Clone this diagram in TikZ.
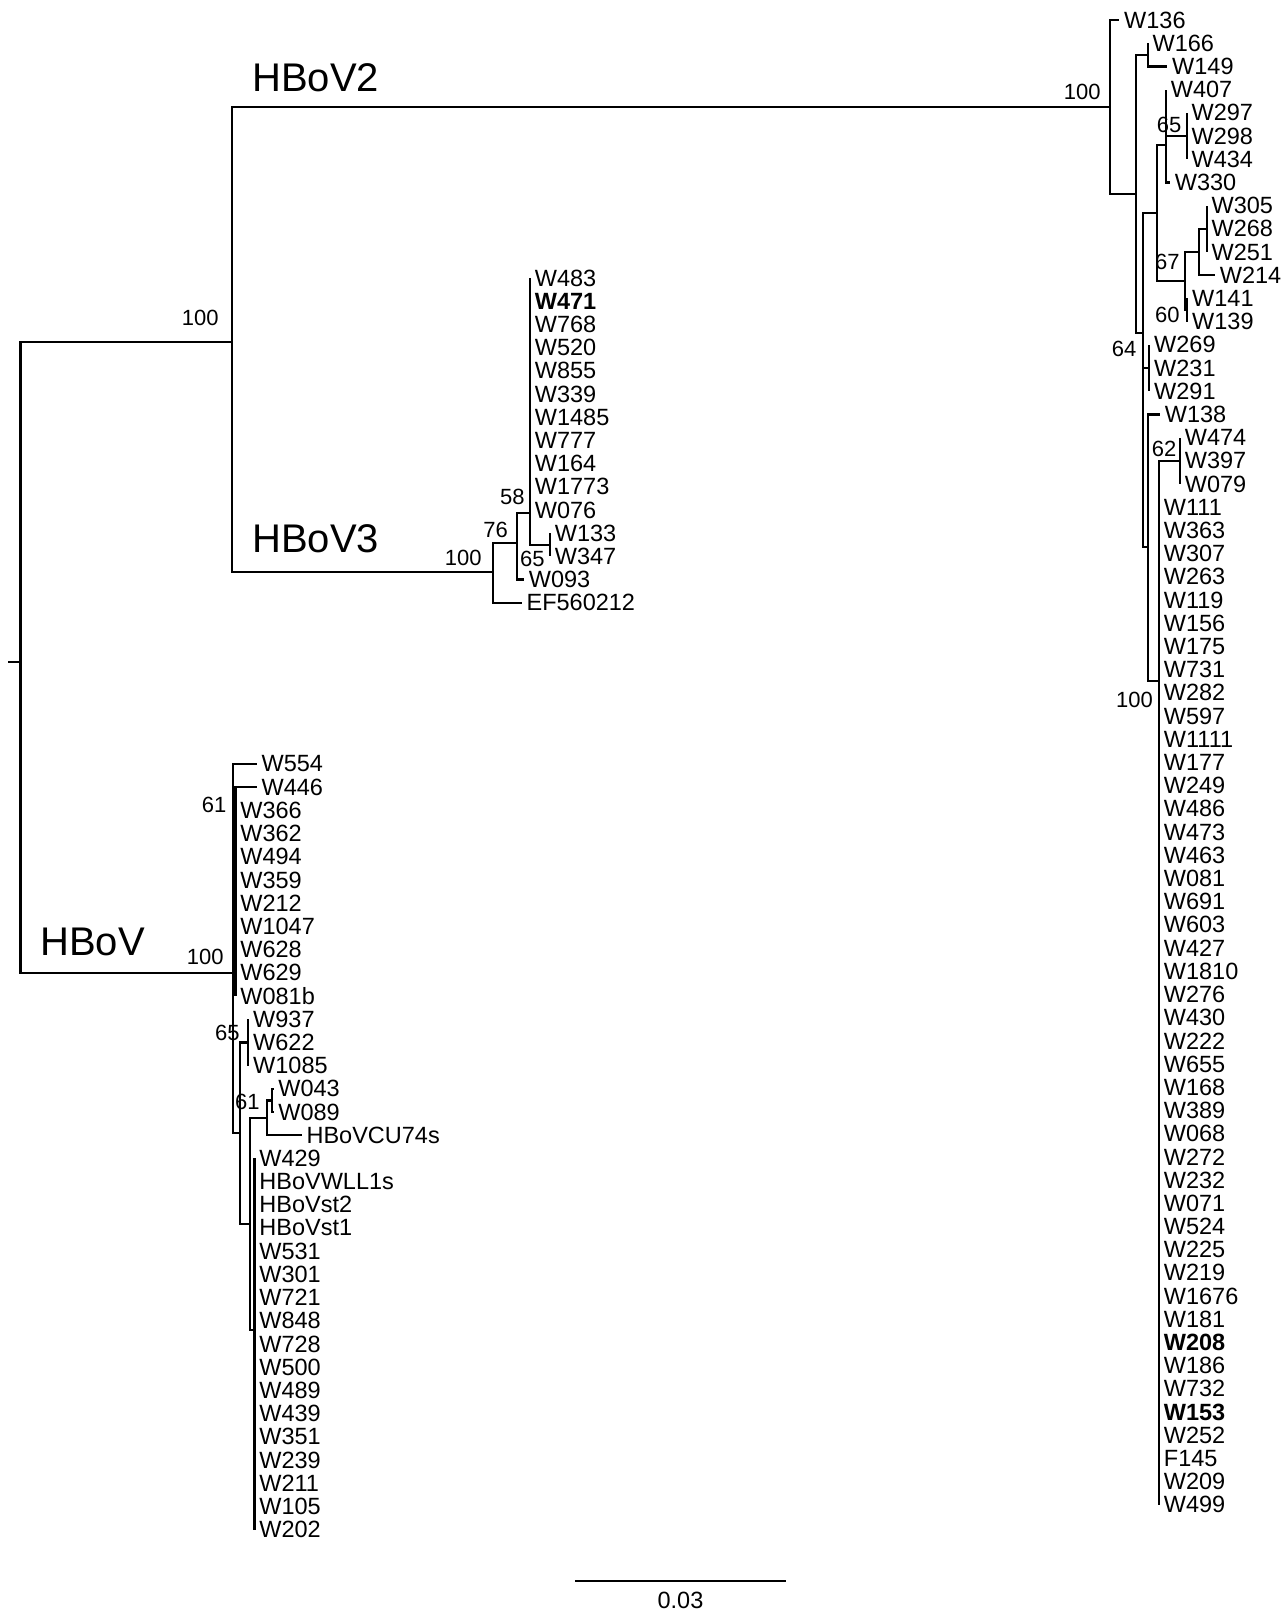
\documentclass[tikz,border=0pt]{standalone}
\usepackage{fontspec}
\setmainfont{Liberation Sans}
\usepackage{tikz}
\usetikzlibrary{calc,positioning}

\newcommand{\tiprow}{23.2}
\newcommand{\ytwo}{20}
\newcommand{\ythree}{278}
\newcommand{\yone}{764}

\begin{document}
\begin{tikzpicture}[
  x=0.5pt, y=-0.5pt,
  branch/.style={
    line width=1.15pt,
    draw=black,
  },
  tip/.style={
    anchor=west,
    inner sep=0pt,
    xshift=2.25pt,
    font=\fontsize{11.75}{12}\selectfont,
  },
  boot/.style={
    anchor=east,
    inner sep=0pt,
    font=\fontsize{11}{12}\selectfont,
  },
  clade/.style={
    anchor=west,
    inner sep=0pt,
    font=\fontsize{20}{22}\selectfont,
  },
]
\useasboundingbox (0,0) rectangle (1288,1610);

% =============================================================================
% Root and the three main lineages
% =============================================================================
\coordinate (root) at (20.5,662);
\coordinate (stub) at (8,662);
\coordinate (c23) at (232,342);
\coordinate (h0) at (233,973.3);
\coordinate (a2) at (1110,107);
\coordinate (c1) at (493.3,571.7);

\draw[branch] (stub) -- (root);
\draw[branch] (root) |- (c23);
\draw[branch] (root) |- (h0);
\draw[branch] (c23) |- (a2);
\draw[branch] (c23) |- (c1);

\node[clade] (lhbov2) at (252,78) {HBoV2};
\node[clade] (lhbov3) at (252,539) {HBoV3};
\node[clade] (lhbov) at (40,942) {HBoV};

\node[boot] (bs23) at (219,318) {100};
\node[boot] (bsa2) at (1101,92) {100};
\node[boot] (bsc1) at (482,558) {100};
\node[boot] (bsh0) at (224,957) {100};

% =============================================================================
% HBoV2 clade
% =============================================================================
\coordinate (t2) at (1136,193.9);
\coordinate (n166) at (1147.7,54.8);
\coordinate (r64) at (1143,333);
\coordinate (s2) at (1157.3,212.7);
\coordinate (v2) at (1166,145);
\coordinate (v297) at (1186.7,136);
\coordinate (x67) at (1185,281);
\coordinate (y2) at (1199.3,252);
\coordinate (n305) at (1206.7,228.8);
\coordinate (n141) at (1187.3,310);
\coordinate (g269) at (1149.3,368);
\coordinate (p2) at (1148.3,547);
\coordinate (q100) at (1159,680.7);
\coordinate (n474) at (1180,460.8);

\draw[branch] (a2) |- (t2);
\draw[branch] (t2) |- (n166);
\draw[branch] (t2) |- (r64);
\draw[branch] (r64) |- (s2);
\draw[branch] (r64) |- (g269);
\draw[branch] (r64) |- (p2);
\draw[branch] (s2) |- (v2);
\draw[branch] (s2) |- (x67);
\draw[branch] (v2) |- (v297);
\draw[branch] (x67) |- (y2);
\draw[branch] (x67) |- (n141);
\draw[branch] (y2) |- (n305);
\draw[branch] (p2) |- (q100);
\draw[branch] (q100) |- (n474);

\foreach \up/\tx/\k/\lab in {
  a2/1119.3/0/W136, n166/1147.7/1/W166, n166/1167.3/2/W149,
  v2/1166/3/W407, v297/1186.7/4/W297, v297/1186.7/5/W298,
  v297/1186.7/6/W434, v2/1170/7/W330,
  n305/1206.7/8/W305, n305/1206.7/9/W268, n305/1206.7/10/W251,
  y2/1215/11/W214, n141/1187.3/12/W141, n141/1187.3/13/W139,
  g269/1149.3/14/W269, g269/1149.3/15/W231, g269/1149.3/16/W291,
  p2/1160/17/W138, n474/1180/18/W474, n474/1180/19/W397,
  n474/1180/20/W079}
{
  \coordinate (b\k) at (\tx,{\ytwo+\k*\tiprow});
  \draw[branch] (\up) |- (b\k);
  \node[tip] (lb\k) at (b\k) {\lab};
}

\foreach \lab [count=\k from 21] in {
  W111, W363, W307, W263, W119, W156, W175, W731, W282, W597, W1111,
  W177, W249, W486, W473, W463, W081, W691, W603, W427, W1810, W276,
  W430, W222, W655, W168, W389, W068, W272, W232, W071, W524, W225,
  W219, W1676, W181, \textbf{W208}, W186, W732, \textbf{W153}, W252,
  F145, W209, W499}
{
  \coordinate (b\k) at (1159,{\ytwo+\k*\tiprow});
  \draw[branch] (q100) |- (b\k);
  \node[tip] (lb\k) at (b\k) {\lab};
}

\node[boot] (bs65a) at (1181.7,125) {65};
\node[boot] (bs67) at (1180,261.7) {67};
\node[boot] (bs60) at (1180,315) {60};
\node[boot] (bs64) at (1136.7,349.3) {64};
\node[boot] (bs62) at (1176.7,449.3) {62};
\node[boot] (bs100q) at (1153.3,700) {100};

% =============================================================================
% HBoV3 clade
% =============================================================================
\coordinate (c2) at (517.3,543.3);
\coordinate (c3) at (530,513.3);
\coordinate (n133) at (550,544.8);

\draw[branch] (c1) |- (c2);
\draw[branch] (c2) |- (c3);
\draw[branch] (c3) |- (n133);

\foreach \lab [count=\k from 0] in {
  W483, \textbf{W471}, W768, W520, W855, W339, W1485, W777, W164,
  W1773, W076}
{
  \coordinate (e\k) at (530,{\ythree+\k*\tiprow});
  \draw[branch] (c3) |- (e\k);
  \node[tip] (le\k) at (e\k) {\lab};
}

\foreach \up/\tx/\k/\lab in {
  n133/550/11/W133, n133/550/12/W347, c2/524/13/W093,
  c1/521.7/14/EF560212}
{
  \coordinate (e\k) at (\tx,{\ythree+\k*\tiprow});
  \draw[branch] (\up) |- (e\k);
  \node[tip] (le\k) at (e\k) {\lab};
}

\node[boot] (bs76) at (508.3,530) {76};
\node[boot] (bs58) at (525,497.3) {58};
\node[boot] (bs65b) at (545,558.5) {65};

% =============================================================================
% HBoV clade
% =============================================================================
\coordinate (h1) at (235.5,891);
\coordinate (h2) at (240,1133.3);
\coordinate (n937) at (248.3,1042.4);
\coordinate (h3) at (250,1224);
\coordinate (h4) at (266.7,1117.8);
\coordinate (n043) at (271.7,1100.4);
\coordinate (h5) at (254.5,1330);

\draw[branch] (h0) |- (h1);
\draw[branch] (h0) |- (h2);
\draw[branch] (h2) |- (n937);
\draw[branch] (h2) |- (h3);
\draw[branch] (h3) |- (h4);
\draw[branch] (h3) |- (h5);
\draw[branch] (h4) |- (n043);

\foreach \up/\tx/\k/\lab in {
  h0/256.7/0/W554, h1/256.7/1/W446,
  h1/235.5/2/W366, h1/235.5/3/W362, h1/235.5/4/W494, h1/235.5/5/W359,
  h1/235.5/6/W212, h1/235.5/7/W1047, h1/235.5/8/W628, h1/235.5/9/W629,
  h1/235.5/10/W081b,
  n937/248.3/11/W937, n937/248.3/12/W622, n937/248.3/13/W1085,
  n043/273.5/14/W043, n043/273.5/15/W089, h4/301.7/16/HBoVCU74s}
{
  \coordinate (d\k) at (\tx,{\yone+\k*\tiprow});
  \draw[branch] (\up) |- (d\k);
  \node[tip] (ld\k) at (d\k) {\lab};
}

\foreach \lab [count=\k from 17] in {
  W429, HBoVWLL1s, HBoVst2, HBoVst1, W531, W301, W721, W848, W728,
  W500, W489, W439, W351, W239, W211, W105, W202}
{
  \coordinate (d\k) at (254.5,{\yone+\k*\tiprow});
  \draw[branch] (h5) |- (d\k);
  \node[tip] (ld\k) at (d\k) {\lab};
}

\node[boot] (bs61a) at (226.7,805) {61};
\node[boot] (bs65c) at (240,1033.3) {65};
\node[boot] (bs61b) at (260,1101.7) {61};

% =============================================================================
% Scale bar
% =============================================================================
\coordinate (sbl) at (575,1580.7);
\coordinate (sbr) at (786,1580.7);
\draw[branch] (sbl) -- (sbr);
\node[inner sep=0pt, font=\fontsize{11.75}{12}\selectfont] (sblab)
  at (680.5,1600) {0.03};

\end{tikzpicture}
\end{document}
